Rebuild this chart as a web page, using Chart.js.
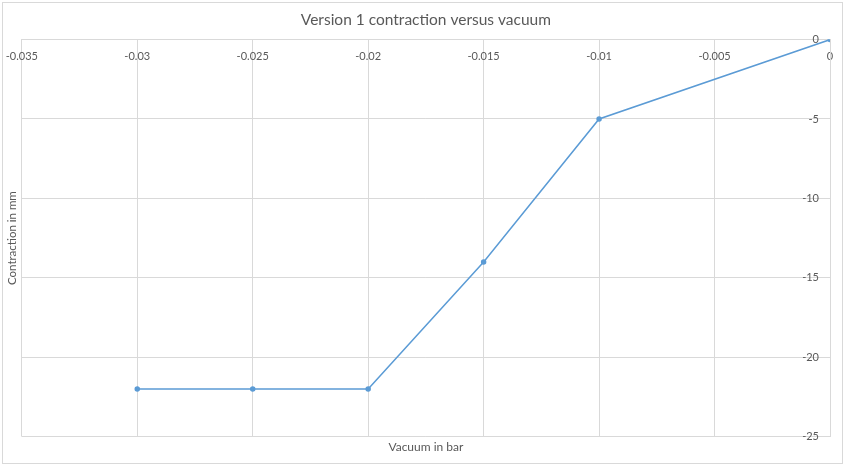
<!DOCTYPE html>
<html>
<head>
<meta charset="utf-8">
<script src="https://cdn.jsdelivr.net/npm/chart.js@4/dist/chart.umd.min.js"></script>
<style>
  body { margin: 0; background: #fff; }
  #wrap { position: relative; width: 845px; height: 472px; }
</style>
</head>
<body>
<div id="wrap"><canvas id="chart-contraction" width="845" height="472"></canvas></div>
<script>
// vacuum (bar) vs contraction (mm)
var vacuum = [-0.03, -0.025, -0.02, -0.015, -0.01, 0];
var contraction = [-22, -22, -22, -14, -5, 0];
var xTicks = [-0.035, -0.03, -0.025, -0.02, -0.015, -0.01, -0.005, 0];
var yTicks = [0, -5, -10, -15, -20, -25];

var textColor = '#595959';
var gridColor = '#d9d9d9';
var fontFamily = 'Lato, "Open Sans", sans-serif';

// light frame round the whole chart, like excel
var framePlugin = {
  id: 'frame',
  afterDraw: function(chart) {
    var ctx = chart.ctx;
    ctx.save();
    ctx.strokeStyle = '#d9d9d9';
    ctx.lineWidth = 1;
    ctx.strokeRect(2.5, 2.5, 840, 461);
    ctx.restore();
  }
};

function initChart() {
  var ctx = document.getElementById('chart-contraction').getContext('2d');
  var points = vacuum.map(function(v, i) { return { x: v, y: contraction[i] }; });

  new Chart(ctx, {
    type: 'scatter',
    data: {
      datasets: [{
        label: 'Contraction',
        data: points,
        showLine: true,
        borderColor: '#5b9bd5',
        backgroundColor: '#5b9bd5',
        borderWidth: 1.5,
        pointRadius: 2,
        pointHoverRadius: 2
      }]
    },
    options: {
      responsive: false,
      animation: false,
      layout: { autoPadding: false, padding: { left: 0, right: 15, top: 0, bottom: 13 } },
      plugins: {
        legend: { display: false },
        tooltip: { enabled: false },
        title: {
          display: true,
          fullSize: false,
          text: 'Version 1 contraction versus vacuum',
          color: textColor,
          font: { family: fontFamily, size: 15.5, weight: 'normal' },
          padding: { top: 11, bottom: 10 }
        }
      },
      scales: {
        // horizontal axis crosses at y = 0, so it sits on top
        x: {
          type: 'linear',
          position: { y: 0 },
          min: -0.035,
          max: 0,
          afterBuildTicks: function(scale) {
            scale.ticks = xTicks.map(function(v) { return { value: v }; });
          },
          afterFit: function(scale) {
            // edge labels may hang over the plot border
            scale.paddingLeft = 0;
            scale.paddingRight = 0;
          },
          ticks: {
            color: textColor,
            font: { family: fontFamily, size: 11 },
            padding: 10,
            maxRotation: 0,
            callback: function(v) { return String(+v.toFixed(3)); }
          },
          grid: { color: gridColor, drawTicks: false },
          border: { color: gridColor }
        },
        // vertical axis crosses at x = 0, labels inside the plot
        y: {
          type: 'linear',
          position: 'right',
          min: -25,
          max: 0,
          afterBuildTicks: function(scale) {
            scale.ticks = yTicks.map(function(v) { return { value: v }; });
          },
          afterFit: function(scale) { scale.width = 0; },
          ticks: {
            color: textColor,
            font: { family: fontFamily, size: 11 },
            mirror: true,
            padding: -11
          },
          grid: { color: gridColor, drawTicks: false },
          border: { color: gridColor }
        },
        // title-only axes
        xTitle: {
          type: 'linear',
          position: 'bottom',
          min: -0.035,
          max: 0,
          ticks: { display: false },
          grid: { display: false, drawTicks: false },
          border: { display: false },
          title: {
            display: true,
            text: 'Vacuum in bar',
            color: textColor,
            font: { family: fontFamily, size: 12 },
            padding: { top: 3, bottom: 5 }
          }
        },
        yTitle: {
          type: 'linear',
          position: 'left',
          min: -25,
          max: 0,
          ticks: { display: false },
          grid: { display: false, drawTicks: false },
          border: { display: false },
          title: {
            display: true,
            text: 'Contraction in mm',
            color: textColor,
            font: { family: fontFamily, size: 11.5 },
            padding: { top: 5, bottom: 3 }
          }
        }
      }
    },
    plugins: [framePlugin]
  });
}

initChart();
</script>
</body>
</html>
